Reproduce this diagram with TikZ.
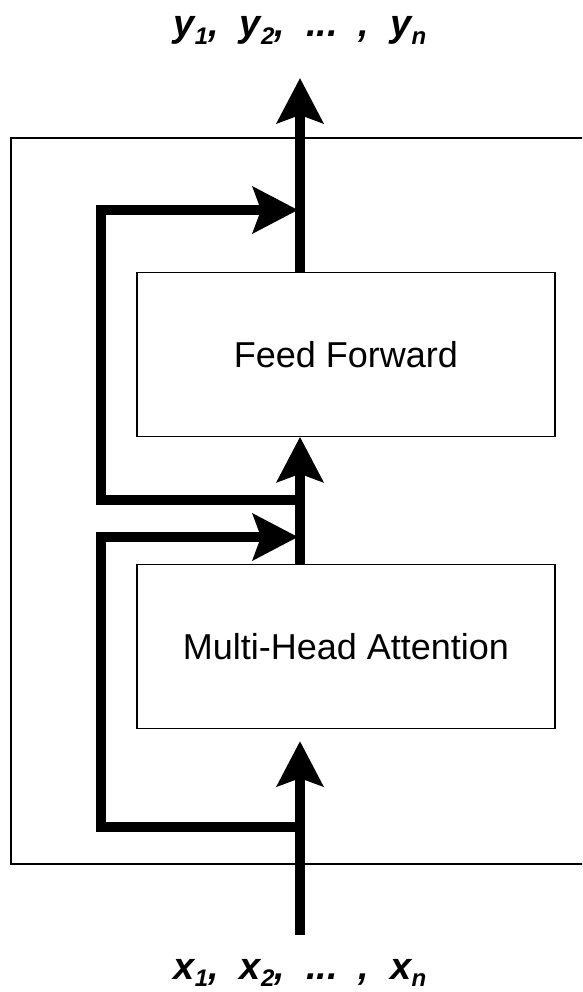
\documentclass[tikz,border=0pt]{standalone}
\usepackage{fontspec}
\setmainfont{Liberation Sans}
\usetikzlibrary{arrows.meta, positioning}

% lowered index for the token sequences
\newcommand{\lowidx}[1]{\raisebox{-0.2em}{\fontsize{24}{24}\selectfont #1}}

\begin{document}
\begin{tikzpicture}[x=1pt, y=-1pt,
        block/.style={draw, line width=1.3pt, minimum width=418pt, minimum height=164pt, inner sep=0pt, font=\fontsize{36}{43}\selectfont},
        flow/.style={line width=10pt, line join=miter, -{Stealth[length=45pt, width=46pt, inset=8pt]}},
        seq/.style={font=\fontsize{38}{45}\selectfont\bfseries\itshape, inner sep=0pt, anchor=base}]
        \useasboundingbox (0,0) rectangle (582,992);
        \clip (0,0) rectangle (582,992);

        % Layer frame
        \draw[line width=1.3pt] (11,138) rectangle (620,864);

        % Sub-layers
        \node (mha) [block] at (346,646.5) {Multi-Head Attention};
        \node (ff) [block, above=127pt of mha] {Feed Forward};

        % Input and output sequences
        \node (inputs) [seq] at (300,979) {x\lowidx{1},\ \ x\lowidx{2},\ \ ...\ \ ,\ \ x\lowidx{n}};
        \node (outputs) [seq] at (300,37) {y\lowidx{1},\ \ y\lowidx{2},\ \ ...\ \ ,\ \ y\lowidx{n}};

        % Stream ends and branch points
        \coordinate (src) at (300,935);
        \coordinate (dst) at (300,78);
        \coordinate (split1) at (300,827);
        \coordinate (add1) at (298,537);
        \coordinate (split2) at (300,500);
        \coordinate (add2) at (298,210);

        % Main stream
        \draw[flow, shorten >=12pt] (src) -- (src |- mha.south);
        \draw[flow] (src |- mha.north) -- (src |- ff.south);
        \draw[flow] (src |- ff.north) -- (dst);

        % Residual connections
        \draw[flow] (split1) -- ++(-199,0) |- (add1);
        \draw[flow] (split2) -- ++(-199,0) |- (add2);
\end{tikzpicture}
\end{document}
